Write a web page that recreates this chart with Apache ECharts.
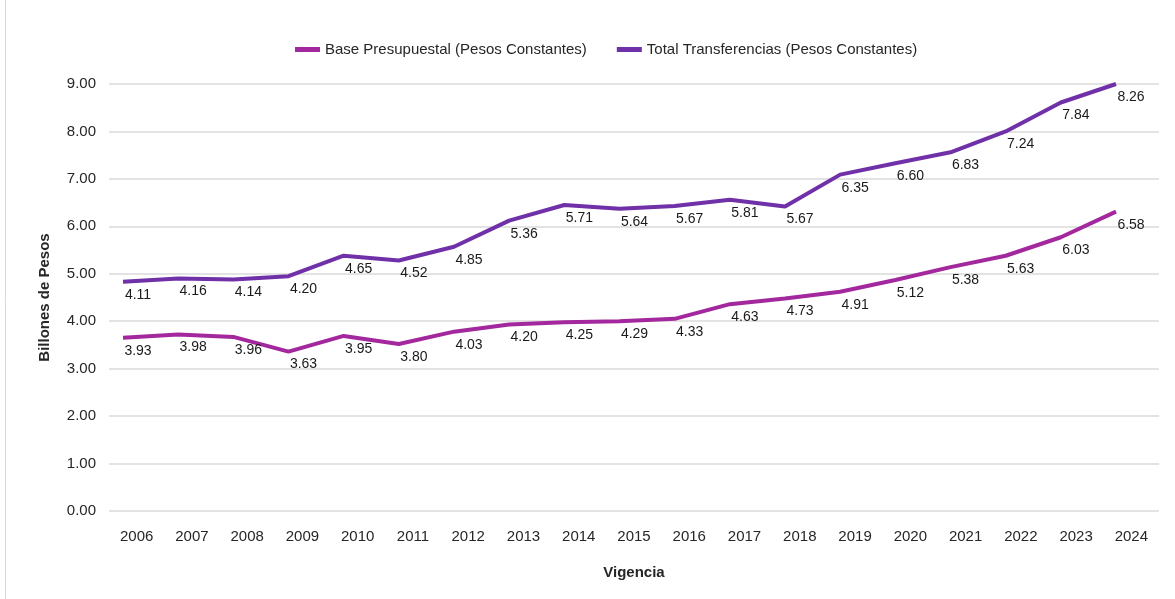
<!DOCTYPE html>
<html>
<head>
<meta charset="utf-8">
<script src="https://cdn.jsdelivr.net/npm/echarts@6/dist/echarts.min.js"></script>
<style>
  html, body { margin: 0; padding: 0; background: #fff; }
  #chart { width: 1175px; height: 599px; }
</style>
</head>
<body>
<div id="chart"></div>
<script>
var years = ['2006','2007','2008','2009','2010','2011','2012','2013','2014','2015','2016','2017','2018','2019','2020','2021','2022','2023','2024'];
// valores graficados (posicion de la linea)
var basePresupuestal = [3.65,3.72,3.67,3.36,3.69,3.52,3.78,3.93,3.98,4.00,4.05,4.36,4.48,4.62,4.87,5.14,5.38,5.77,6.31];
var totalTransferencias = [4.83,4.90,4.88,4.95,5.38,5.28,5.57,6.12,6.45,6.37,6.43,6.56,6.42,7.09,7.33,7.56,8.00,8.61,9.00];
// etiquetas mostradas en el grafico
var baseEtiquetas = ['3.93','3.98','3.96','3.63','3.95','3.80','4.03','4.20','4.25','4.29','4.33','4.63','4.73','4.91','5.12','5.38','5.63','6.03','6.58'];
var totalEtiquetas = ['4.11','4.16','4.14','4.20','4.65','4.52','4.85','5.36','5.71','5.64','5.67','5.81','5.67','6.35','6.60','6.83','7.24','7.84','8.26'];
var yTicks = [0, 9, 1];

var fontFam = "'Liberation Sans', Arial, sans-serif";
var chart = echarts.init(document.getElementById('chart'));

var etiqueta = function (arr) {
    return {
        show: true,
        position: 'bottom',
        offset: [15, 1],
        fontSize: 14,
        color: '#1a1a1a',
        fontFamily: fontFam,
        formatter: function (p) { return arr[p.dataIndex]; }
    };
};

var option = {
    textStyle: { fontFamily: fontFam },
    legend: {
        top: 37,
        left: 290,
        itemWidth: 25,
        itemHeight: 5,
        itemGap: 30,
        icon: 'rect',
        textStyle: { fontSize: 15, color: '#262626', fontFamily: fontFam },
        data: ['Base Presupuestal (Pesos Constantes)', 'Total Transferencias (Pesos Constantes)']
    },
    graphic: [
        { type: 'line', shape: { x1: 5.5, y1: 0, x2: 5.5, y2: 599 }, style: { stroke: '#d9d9d9', lineWidth: 1 } }
    ],
    grid: [
        { left: 109, right: 16, top: 84, bottom: 88 },
        { left: 123, right: 59, top: 84, bottom: 88 }
    ],
    xAxis: [
        {
            type: 'category',
            gridIndex: 0,
            data: years,
            name: 'Vigencia',
            nameLocation: 'middle',
            nameGap: 54,
            nameTextStyle: { fontSize: 15, fontWeight: 'bold', color: '#262626', fontFamily: fontFam },
            axisLine: { show: false },
            axisTick: { show: false },
            axisLabel: { fontSize: 15, color: '#262626', margin: 18, fontFamily: fontFam }
        },
        {
            type: 'category',
            gridIndex: 1,
            data: years,
            boundaryGap: false,
            show: false
        }
    ],
    yAxis: [
        {
            type: 'value',
            gridIndex: 0,
            min: yTicks[0],
            max: yTicks[1],
            interval: yTicks[2],
            name: 'Billones de Pesos',
            nameLocation: 'middle',
            nameGap: 57,
            nameTextStyle: { fontSize: 15, fontWeight: 'bold', color: '#262626', fontFamily: fontFam },
            axisLabel: {
                fontSize: 15, color: '#262626', margin: 13, fontFamily: fontFam,
                formatter: function (v) { return v.toFixed(2); }
            },
            splitLine: { lineStyle: { color: '#e3e3e3', width: 2 } }
        },
        {
            type: 'value',
            gridIndex: 1,
            min: yTicks[0],
            max: yTicks[1],
            show: false
        }
    ],
    series: [
        {
            name: 'Base Presupuestal (Pesos Constantes)',
            type: 'line',
            xAxisIndex: 1,
            yAxisIndex: 1,
            data: basePresupuestal,
            symbol: 'circle',
            symbolSize: 0.1,
            lineStyle: { color: '#A3289E', width: 4 },
            itemStyle: { color: '#A3289E' },
            label: etiqueta(baseEtiquetas)
        },
        {
            name: 'Total Transferencias (Pesos Constantes)',
            type: 'line',
            xAxisIndex: 1,
            yAxisIndex: 1,
            data: totalTransferencias,
            symbol: 'circle',
            symbolSize: 0.1,
            lineStyle: { color: '#7030A8', width: 4 },
            itemStyle: { color: '#7030A8' },
            label: etiqueta(totalEtiquetas)
        }
    ]
};
chart.setOption(option);
</script>
</body>
</html>
